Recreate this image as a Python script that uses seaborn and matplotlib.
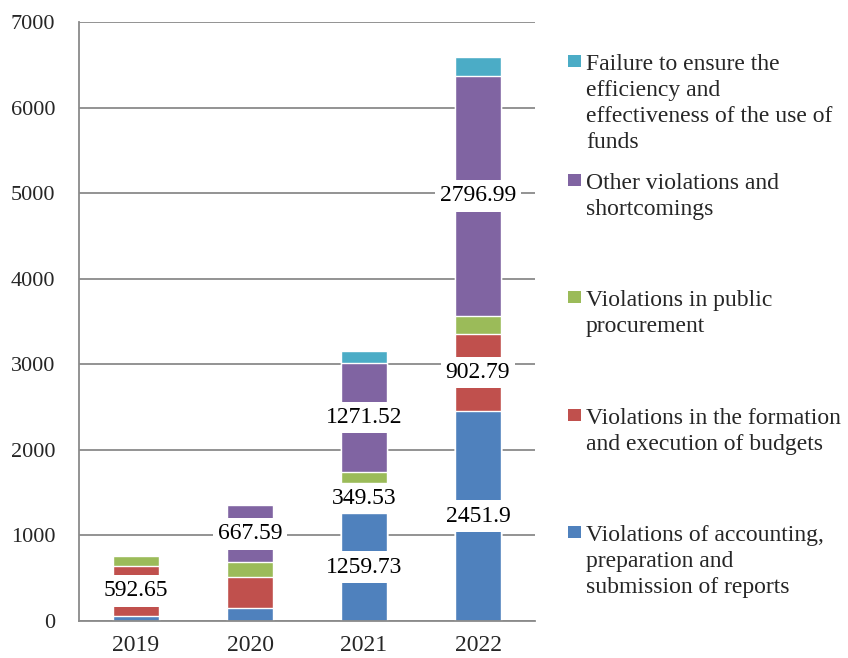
import matplotlib.pyplot as plt
import pandas as pd
import seaborn as sns
from matplotlib.patches import Rectangle

years = ['2019', '2020', '2021', '2022']
accounting = [55, 155, 1259.73, 2451.9]
budgets = [592.65, 365, 349.53, 902.79]
procurement = [117, 165, 136, 214]
other = [0, 667.59, 1271.52, 2796.99]
efficiency = [0, 0, 136, 230]

series_names = [
    'Violations of accounting,\npreparation and\nsubmission of reports',
    'Violations in the formation\nand execution of budgets',
    'Violations in public\nprocurement',
    'Other violations and\nshortcomings',
    'Failure to ensure the\nefficiency and\neffectiveness of the use of\nfunds',
]
series_values = [accounting, budgets, procurement, other, efficiency]
# which segments carry a data label in the original
labelled = [
    [False, False, True, True],
    [True, False, True, True],
    [False, False, False, False],
    [False, True, True, True],
    [False, False, False, False],
]
colors = ['#4F81BD', '#C0504D', '#9BBB59', '#8064A2', '#4BACC6']

# long table with running totals per year
rows = []
for name, vals in zip(series_names, series_values):
    for y, v in zip(years, vals):
        rows.append({'year': y, 'series': name, 'value': v})
df = pd.DataFrame(rows)
df['top'] = df.groupby('year')['value'].cumsum()
df['bottom'] = df['top'] - df['value']

sns.set_style('white')
plt.rcParams['font.family'] = ['Liberation Serif', 'DejaVu Serif']

fig = plt.figure(figsize=(8.48, 6.58), dpi=100)
ax = fig.add_axes([79 / 848, 1 - 621 / 658, (535 - 79) / 848, (621 - 22) / 658])

grey = '#8a8a8a'
ax.set_ylim(0, 7000)
ax.set_yticks(range(0, 7001, 1000))
ax.yaxis.grid(True, color=grey, linewidth=1.3)
ax.set_axisbelow(True)

# overlay the running totals from the tallest down so each colour shows its segment
for name, color in reversed(list(zip(series_names, colors))):
    sub = df[df.series == name]
    sns.barplot(data=sub, x='year', y='top', order=years, color=color,
                saturation=1, width=0.4, ax=ax, zorder=2)

for (name, vals), flags in zip(zip(series_names, series_values), labelled):
    sub = df[df.series == name].reset_index(drop=True)
    for i, row in sub.iterrows():
        if flags[i]:
            ax.text(i, (row['bottom'] + row['top']) / 2, f"{row['value']:g}",
                    ha='center', va='center', fontsize=17, color='black', zorder=5,
                    bbox=dict(boxstyle='square,pad=0.22', facecolor='white', edgecolor='none'))

ax.set_xlim(-0.5, 3.5)
ax.set_xlabel('')
ax.set_ylabel('')
for side in ['top', 'right']:
    ax.spines[side].set_visible(False)
for side in ['left', 'bottom']:
    ax.spines[side].set_color(grey)
    ax.spines[side].set_linewidth(1.3)
ax.set_xticks([-0.5, 0.5, 1.5, 2.5, 3.5], minor=True)
ax.tick_params(axis='x', which='major', length=0, labelsize=17, pad=10)
ax.tick_params(axis='x', which='minor', length=6, color=grey, width=1.3, direction='out')
ax.tick_params(axis='y', length=6, color=grey, width=1.3, direction='out', labelsize=16, pad=11)

# legend drawn like the spreadsheet one: square aligned to the first text line
first_line = [532, 415, 297, 180, 61]
for name, color, yc in zip(series_names, colors, first_line):
    fig.patches.append(Rectangle(((568) / 848, 1 - (yc + 6) / 658), 13 / 848, 12 / 658,
                                 transform=fig.transFigure, facecolor=color, edgecolor='none'))
    fig.text(586 / 848, 1 - (yc - 7) / 658, name, ha='left', va='top',
             fontsize=17, linespacing=1.32)

fig.savefig('out.png', dpi=100)
